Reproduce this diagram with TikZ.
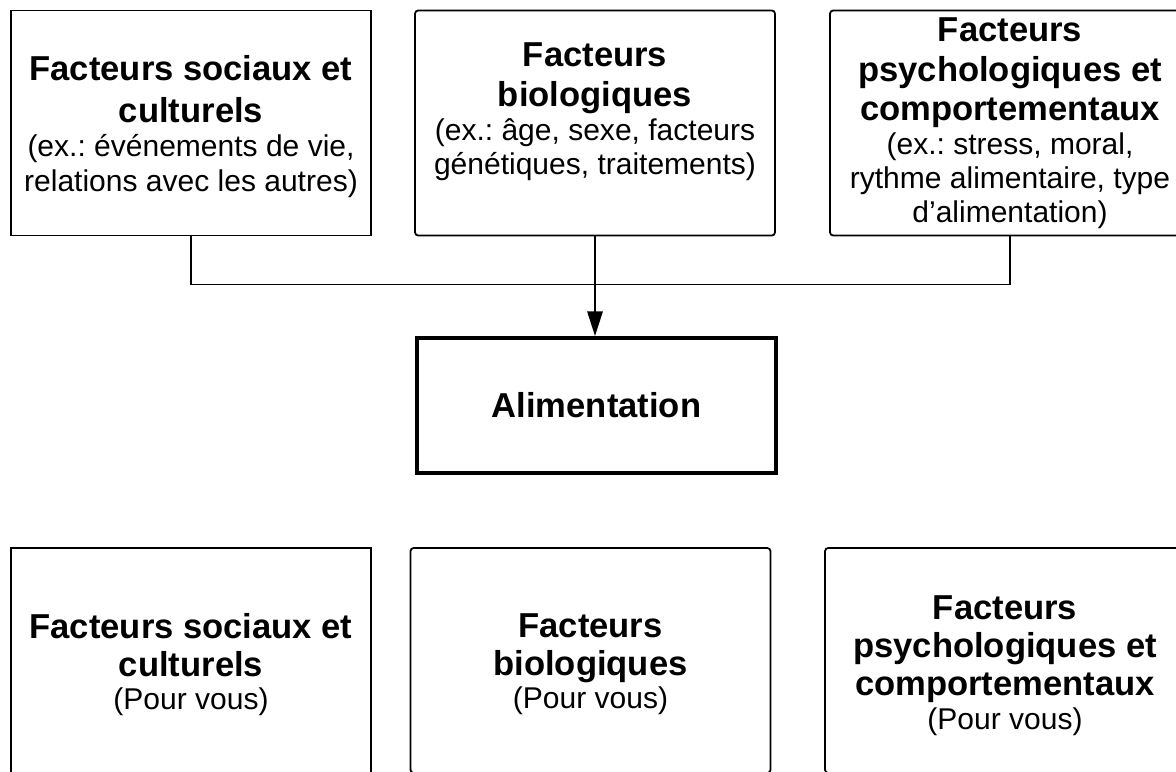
\documentclass[tikz,border=0pt]{standalone}
\usepackage{fontspec}
\setmainfont{Liberation Sans}
\usetikzlibrary{arrows.meta}
\frenchspacing

\newcommand{\titre}[1]{{\fontsize{9.84pt}{9.67pt}\selectfont\bfseries #1}}

\begin{document}
\begin{tikzpicture}[
        boite/.style={draw,line width=0.5pt,inner sep=0pt,minimum width=3.6cm,minimum height=2.25cm},
        arrondie/.style={boite,rounded corners=0.9pt},
        texte/.style={align=center,anchor=north,inner sep=0pt,font=\fontsize{8.54pt}{9.67pt}\selectfont},
        lien/.style={line width=0.45pt},
        >={Triangle[length=7pt,width=4.4pt]}]
        \clip (0,0) rectangle (11.76,-7.71);

        % facteurs, avec exemples
        \node[boite] (S) at (1.91,-1.23) {};
        \node[arrondie] (B) at (5.95,-1.23) {};
        \node[arrondie] (P) at (10.10,-1.23) {};
        \node[texte] (St) at (1.91,-0.55) {\titre{Facteurs sociaux et}\\[2.3pt]\titre{culturels}\\(ex.: événements de vie,\\[0.3pt]relations avec les autres)};
        \node[texte] (Bt) at (5.95,-0.42) {\titre{Facteurs}\\[1.6pt]\titre{biologiques}\\(ex.: âge, sexe, facteurs\\génétiques, traitements)};
        \node[texte] (Pt) at (10.10,-0.17) {\titre{Facteurs}\\[1.6pt]\titre{psychologiques et}\\[1.6pt]\titre{comportementaux}\\(ex.: stress, moral,\\rythme alimentaire, type\\d’alimentation)};

        % alimentation
        \node[draw,line width=1.15pt,inner sep=0pt,minimum width=3.59cm,minimum height=1.35cm] (A) at (5.965,-4.055) {\titre{Alimentation}};

        \draw[lien] (S.south) -- ++(0,-0.48) -| (P.south);
        \draw[lien,->] (B.south) -- (B.south |- A.north);

        % facteurs, pour vous
        \node[boite] (S2) at (1.91,-6.605) {};
        \node[arrondie] (B2) at (5.905,-6.605) {};
        \node[arrondie] (P2) at (10.05,-6.605) {};
        \node[texte] (S2t) at (1.91,-6.13) {\titre{Facteurs sociaux et}\\[1.1pt]\titre{culturels}\\[-0.3pt](Pour vous)};
        \node[texte] (B2t) at (5.905,-6.13) {\titre{Facteurs}\\[1.1pt]\titre{biologiques}\\[-0.3pt](Pour vous)};
        \node[texte] (P2t) at (10.05,-5.95) {\titre{Facteurs}\\[1.1pt]\titre{psychologiques et}\\[1.1pt]\titre{comportementaux}\\(Pour vous)};
\end{tikzpicture}
\end{document}
